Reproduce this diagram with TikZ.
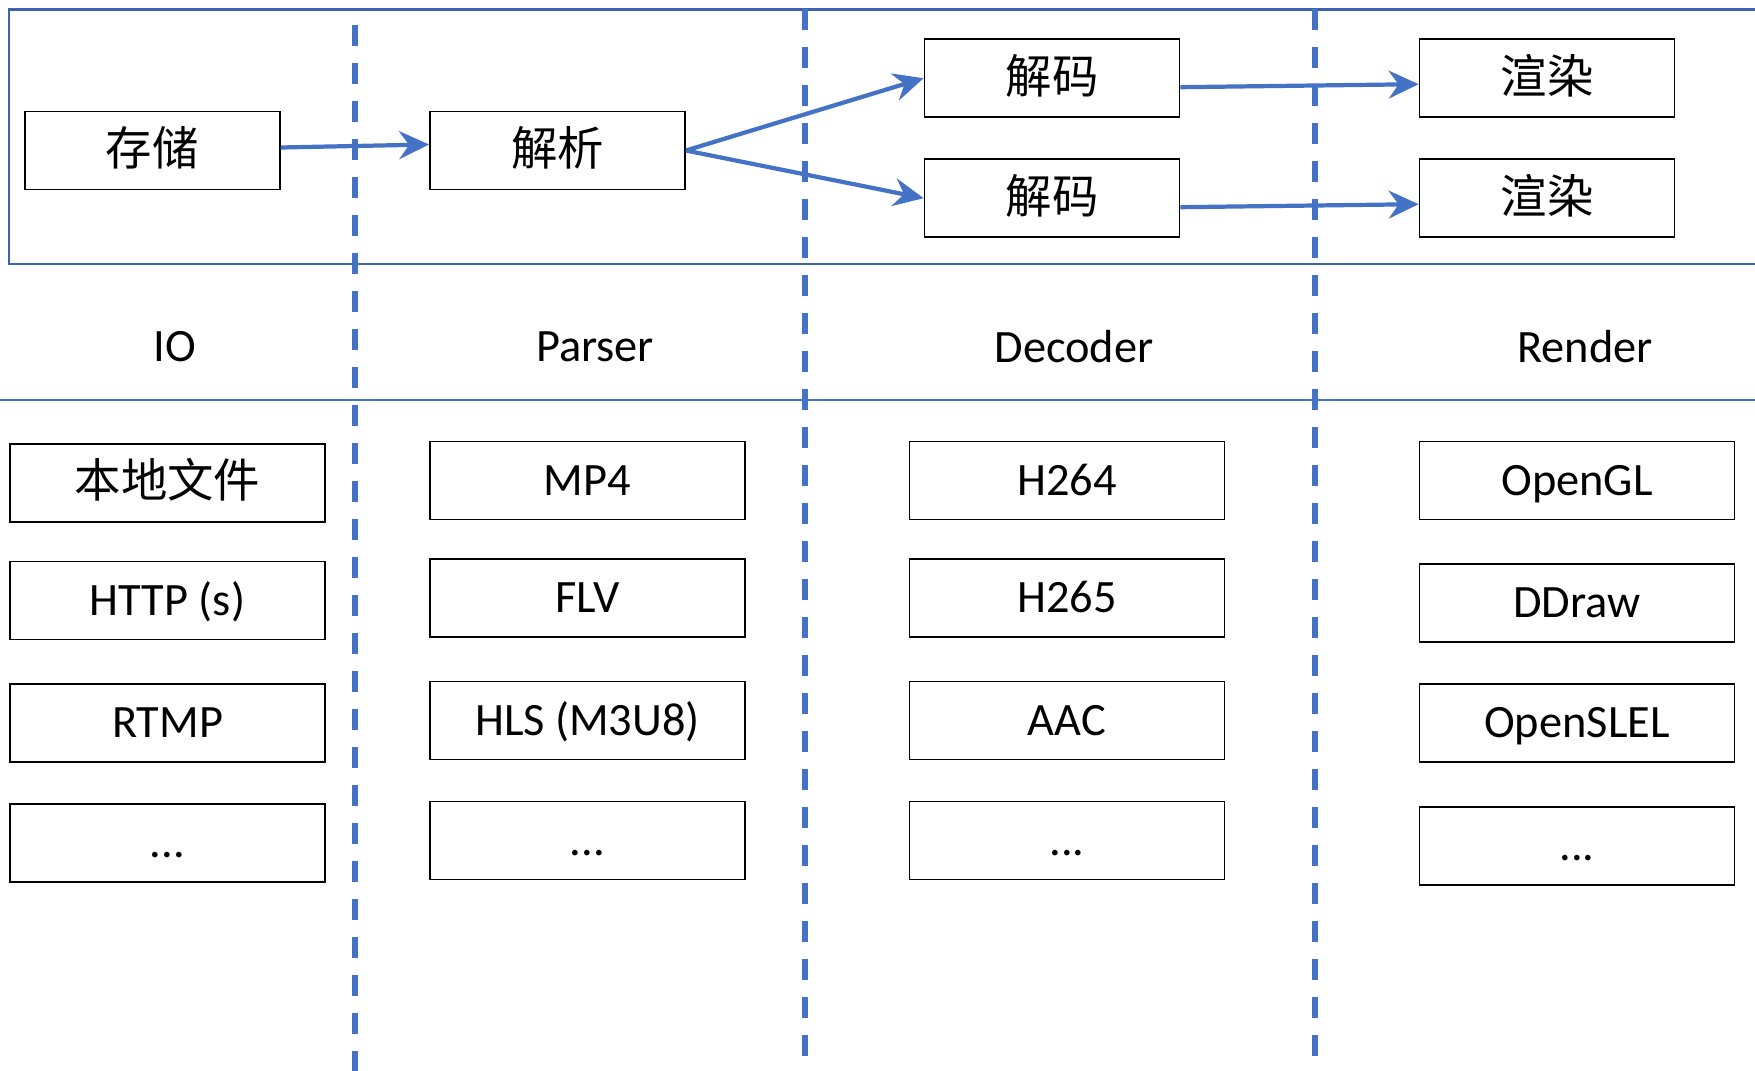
\documentclass[tikz,border=0pt]{standalone}
\usepackage{fontspec}
\setmainfont{Carlito}
\newfontfamily\cjk{Noto Sans CJK SC}
\usetikzlibrary{arrows.meta}
\definecolor{lineblue}{HTML}{4472C4}
\definecolor{frameblue}{HTML}{3C63AC}

\begin{document}
\begin{tikzpicture}[
  font=\fontsize{13.2}{16}\selectfont,
  box/.style={draw, line width=0.5pt, fill=white, inner sep=0pt,
    minimum width=3.15cm, minimum height=0.78cm, text height=8.5pt, text depth=0pt},
  topbox/.style={box, minimum width=2.55cm},
  sep/.style={lineblue, line width=1.6pt, dash pattern=on 0.21cm off 0.17cm},
  flow/.style={lineblue, line width=1.2pt, -{Stealth[length=0.3cm,width=0.28cm,inset=0.1cm]}}
]
\useasboundingbox (0,0) rectangle (17.55,-10.71);

\draw [frameblue, line width=0.7pt] (17.55,-0.093) -- (0.09,-0.093) -- (0.09,-2.64) -- (17.55,-2.64);
\draw [lineblue, line width=0.4pt] (0,-4.0) -- (17.55,-4.0);

\draw [sep] (3.55,-0.25) -- (3.55,-10.71);
\draw [sep] (8.05,-0.093) -- (8.05,-10.59);
\draw [sep] (13.15,-0.093) -- (13.15,-10.59);

\node [topbox] (store) at (1.523,-1.505) {\cjk 存储};
\node [topbox] (parse) at (5.575,-1.505) {\cjk 解析};
\node [topbox] (decA) at (10.52,-0.782) {\cjk 解码};
\node [topbox] (decB) at (10.52,-1.982) {\cjk 解码};
\node [topbox] (renA) at (15.47,-0.782) {\cjk 渲染};
\node [topbox] (renB) at (15.47,-1.982) {\cjk 渲染};

\draw [flow] ([yshift=0.03cm]store.east) -- ([yshift=0.06cm]parse.west);
\draw [flow] (parse.east) -- (decA.west);
\draw [flow] (parse.east) -- (decB.west);
\draw [flow] ([yshift=-0.09cm]decA.east) -- ([yshift=-0.06cm]renA.west);
\draw [flow] ([yshift=-0.09cm]decB.east) -- ([yshift=-0.06cm]renB.west);

\node (io) at (1.75,-3.47) {IO};
\node (parser) at (5.95,-3.47) {Parser};
\node (decoder) at (10.74,-3.47) {Decoder};
\node (render) at (15.85,-3.47) {Render};

\node [box] (local) at (1.675,-4.83) {\cjk 本地文件};
\node [box] (http) at (1.675,-6.005) {HTTP (s)};
\node [box] (rtmp) at (1.675,-7.23) {RTMP};
\node [box] (ioMore) at (1.675,-8.43) {...};

\node [box] (mp4) at (5.875,-4.805) {MP4};
\node [box] (flv) at (5.875,-5.98) {FLV};
\node [box] (hls) at (5.875,-7.205) {HLS (M3U8)};
\node [box] (parserMore) at (5.875,-8.405) {...};

\node [box] (h264) at (10.67,-4.805) {H264};
\node [box] (h265) at (10.67,-5.98) {H265};
\node [box] (aac) at (10.67,-7.205) {AAC};
\node [box] (decoderMore) at (10.67,-8.405) {...};

\node [box] (opengl) at (15.77,-4.805) {OpenGL};
\node [box] (ddraw) at (15.77,-6.03) {DDraw};
\node [box] (opensl) at (15.77,-7.23) {OpenSLEL};
\node [box] (renderMore) at (15.77,-8.457) {...};
\end{tikzpicture}
\end{document}
